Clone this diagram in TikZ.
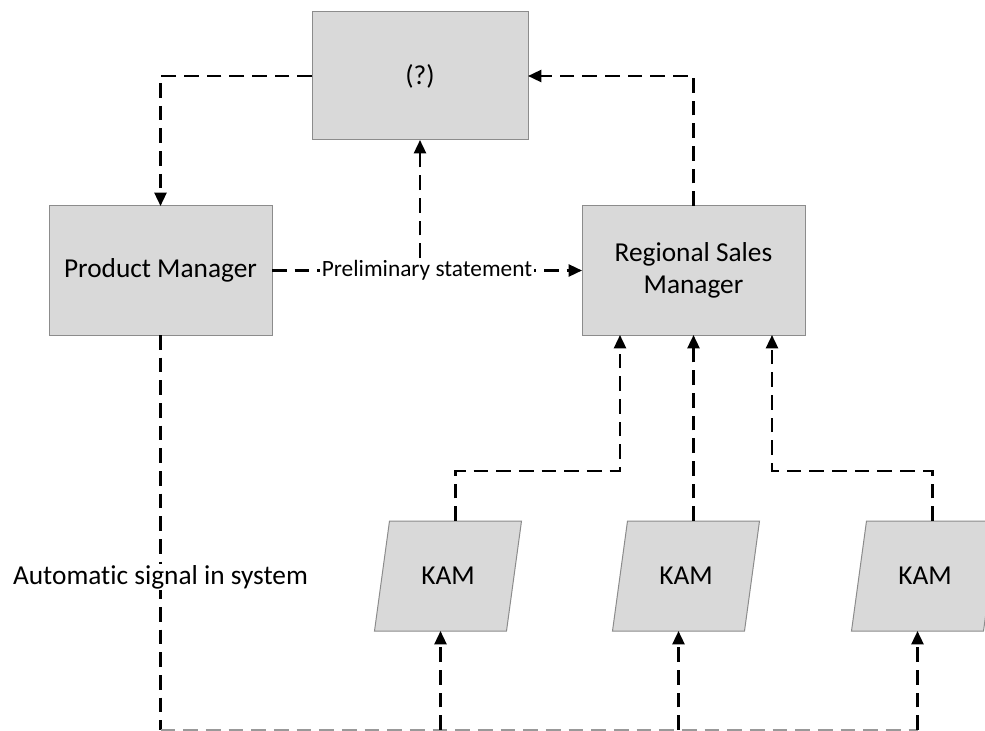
\documentclass[tikz,border=0pt]{standalone}
\usepackage{fontspec}
\setmainfont{Carlito}[Ligatures=NoCommon]
\usetikzlibrary{arrows.meta,calc}
\definecolor{boxfill}{HTML}{D9D9D9}
\definecolor{boxline}{HTML}{8C8C8C}
\begin{document}
\begin{tikzpicture}[x=0.75pt,y=-0.75pt,
  bigtext/.style={font=\fontsize{20.5}{23.5}\selectfont},
  box/.style={draw=boxline,fill=boxfill,line width=0.75pt,outer sep=0pt,
    minimum width=167.25pt,minimum height=96.75pt,align=center,bigtext},
  kamshape/.style={draw=boxline,fill=boxfill,line width=0.75pt},
  kamnode/.style={minimum width=99pt,minimum height=82.5pt,outer sep=0pt,bigtext},
  conn/.style={line width=1.75pt,dash pattern=on 11pt off 6pt,black},
  arr/.style={-{Triangle[length=10pt,width=9pt]}},
  lbl/.style={fill=white,inner sep=1pt,text=black}]
\useasboundingbox (0,0) rectangle (985,731);
\clip (0,0) rectangle (985,731);

% main boxes
\node[box,minimum width=162pt,minimum height=96pt] (q) at (420,76) {(?)};
\node[box] (pm) at (160.5,270.5) {Product Manager};
\node[box] (rsm) at (693.5,270.5) {Regional Sales\\Manager};

% KAM parallelograms
\foreach \i/\cx in {1/448,2/686,3/925}{
  \coordinate (k\i) at (\cx,576);
  \draw[kamshape] ($(k\i)+(-58.5,-55)$) -- ($(k\i)+(73.5,-55)$)
    -- ($(k\i)+(58.5,55)$) -- ($(k\i)+(-73.5,55)$) -- cycle;
  \node[kamnode] (kam\i) at (k\i) {KAM};
  \coordinate (kt\i) at ($(kam\i.north)+(7.5,0)$);
  \coordinate (kb\i) at ($(kam\i.south)+(-7.5,0)$);
}

% connectors around the top box
\draw[conn,arr] (q.west) -| (pm.north);
\draw[conn,arr] (rsm.north) |- (q.east);

% preliminary statement
\draw[conn,arr] (pm.east) -- node[lbl,font=\fontsize{17.5}{21}\selectfont] (prelim) {Preliminary statement} (rsm.west);
\draw[conn,arr] (prelim.north -| q.south) -- (q.south);

% KAM reports to the regional sales manager
\coordinate (r1) at ($(rsm.south)+(-73.5,0)$);
\coordinate (r3) at ($(rsm.south)+(78.5,0)$);
\draw[conn,arr] (kt1) -- ($(kt1)+(0,-50)$) -| (r1);
\draw[conn,arr] (kt2) -- (rsm.south);
\draw[conn,arr] (kt3) -- ($(kt3)+(0,-50)$) -| (r3);

% automatic signal bus along the lower edge
\coordinate (bus) at (160.5,730);
\draw[conn] (pm.south) -- node[pos=0.613,lbl,bigtext] (auto) {Automatic signal in system} (bus);
\draw[conn,black!40] (bus) -- (bus -| kb3);
\foreach \i in {1,2,3}{
  \draw[conn,arr] (bus -| kb\i) -- (kb\i);
}
\end{tikzpicture}
\end{document}
